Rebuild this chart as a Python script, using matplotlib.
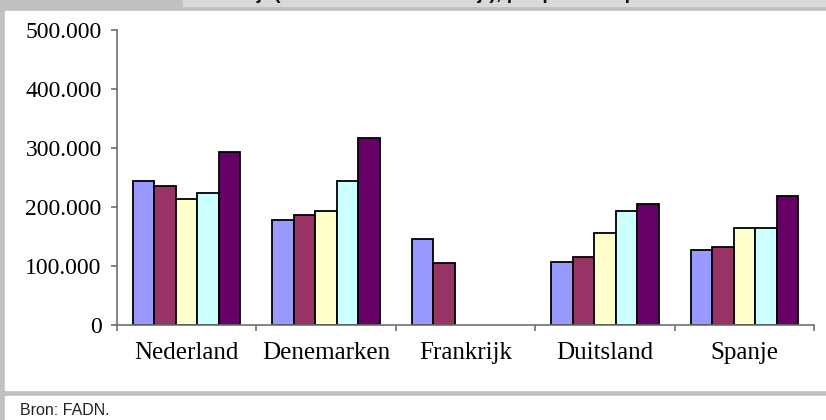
import numpy as np
import matplotlib
matplotlib.use("Agg")
import matplotlib.pyplot as plt
from matplotlib.patches import Rectangle
from matplotlib.ticker import FuncFormatter, FixedLocator

landen = ['Nederland', 'Denemarken', 'Frankrijk', 'Duitsland', 'Spanje']
serie_1 = [244500, 177500, 146000, 107000, 127500]
serie_2 = [236000, 187000, 104500, 115000, 133000]
serie_3 = [213500, 193000, np.nan, 156000, 164000]
serie_4 = [224000, 244000, np.nan, 193000, 164000]
serie_5 = [293000, 317000, np.nan, 205500, 218500]
series = [serie_1, serie_2, serie_3, serie_4, serie_5]
kleuren = ['#9999FF', '#993366', '#FFFFCC', '#CCFFFF', '#660066']
yticks = [0, 100000, 200000, 300000, 400000, 500000]

W, H = 826, 420
fig = plt.figure(figsize=(W / 100, H / 100), dpi=100, facecolor='#c0c0c0')

# white panels and the light title strip, behind the axes
fig.patches.append(Rectangle((5 / W, 1 - 390 / H), 1, (390 - 11) / H,
                             transform=fig.transFigure, color='white', zorder=-5))
fig.patches.append(Rectangle((5 / W, 0), 1, 24 / H,
                             transform=fig.transFigure, color='white', zorder=-5))
titelvak = Rectangle((183 / W, 1 - 6 / H), 1, 6 / H,
                     transform=fig.transFigure, color='#d9d9d9', zorder=-5)
fig.patches.append(titelvak)

titel = fig.text(200 / W - 0.135, 1 + 1 / H,
                 'Inkomen per bedrijf (inkomen uit het bedrijf), per persoon per arbeidskracht',
                 fontsize=14, fontweight='bold', family='Liberation Sans',
                 color='#111111', va='baseline', ha='left')
titel.set_clip_path(titelvak)

fig.text(20 / W, 1 - 415 / H, 'Bron: FADN.', fontsize=11.5,
         family=['Liberation Sans Narrow', 'Liberation Sans'], color='#222222',
         va='baseline', ha='left')

ax = fig.add_axes([117 / W, 1 - 325 / H, (814 - 117) / W, (325 - 30) / H])
ax.set_facecolor('none')

x = np.arange(len(landen))
breedte = 0.154
for i, (waarden, kleur) in enumerate(zip(series, kleuren)):
    ax.bar(x + (i - 2) * breedte, waarden, breedte, color=kleur,
           edgecolor='black', linewidth=1.3)

ax.set_xlim(-0.5, len(landen) - 0.5)
ax.set_ylim(0, 500000)
ax.set_yticks(yticks)
ax.yaxis.set_major_formatter(FuncFormatter(lambda v, p: f'{int(v):,}'.replace(',', '.')))

ax.xaxis.set_major_locator(FixedLocator(np.arange(-0.5, len(landen), 1.0)))
ax.xaxis.set_major_formatter(FuncFormatter(lambda v, p: ''))
ax.set_xticks(x, minor=True)
ax.set_xticklabels(landen, minor=True)

for s in ['top', 'right']:
    ax.spines[s].set_visible(False)
for s in ['left', 'bottom']:
    ax.spines[s].set_color('#707070')
    ax.spines[s].set_linewidth(1.2)

ax.tick_params(axis='y', which='major', length=4, width=1.2, color='#707070', pad=7,
               labelsize=17)
ax.tick_params(axis='x', which='major', length=4, width=1.2, color='#707070')
ax.tick_params(axis='x', which='minor', length=0, pad=12, labelsize=18)
for lbl in ax.get_yticklabels() + ax.get_xticklabels(minor=True):
    lbl.set_family('Liberation Serif')

plt.savefig('out.png', dpi=100, facecolor=fig.get_facecolor())
